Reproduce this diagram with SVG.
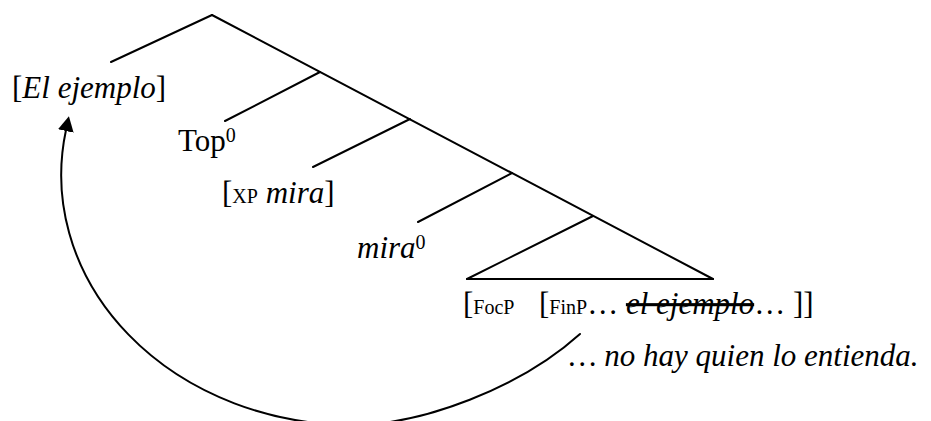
<svg xmlns="http://www.w3.org/2000/svg" width="931" height="421" viewBox="0 0 931 421">
<style>
  .ln { stroke: #000; stroke-width: 2; fill: none; stroke-linecap: round; }
  .t { font-family: "Liberation Serif", "Times New Roman", serif; fill: #000; font-size: 31px; }
  .it { font-style: italic; }
  .sm { font-size: 20px; }
  .strike { text-decoration: line-through; }
</style>
<defs>
  <marker id="ah" markerUnits="userSpaceOnUse" markerWidth="16" markerHeight="16" refX="1" refY="8" orient="auto">
    <path d="M0,0 L15,8 L0,16 z" fill="#000"/>
  </marker>
</defs>
<g id="connectors">
  <line class="ln" x1="212" y1="15" x2="713" y2="279"/>
  <line class="ln" x1="212" y1="15" x2="111" y2="62"/>
  <line class="ln" x1="320" y1="72" x2="225" y2="121"/>
  <line class="ln" x1="410" y1="119" x2="313" y2="167"/>
  <line class="ln" x1="512" y1="173" x2="418" y2="222"/>
  <line class="ln" x1="593" y1="216" x2="467" y2="279"/>
  <line class="ln" x1="467" y1="279" x2="713" y2="279"/>
  <path class="ln" d="M580,334 C520,388 422,425 352,425 A292,250 0 0 1 66,130" marker-end="url(#ah)"/>
</g>
<g id="n-ejemplo">
  <text class="t" x="12" y="98">[<tspan class="it">El ejemplo</tspan>]</text>
</g>
<g id="n-top">
  <text class="t" x="178" y="151">Top<tspan class="sm" dy="-9">0</tspan></text>
</g>
<g id="n-xp">
  <text class="t" x="222" y="203">[<tspan class="sm">XP</tspan> <tspan class="it">mira</tspan>]</text>
</g>
<g id="n-mira">
  <text class="t it" x="357" y="258">mira<tspan class="sm" font-style="normal" dy="-9">0</tspan></text>
</g>
<g id="n-focp">
  <text class="t" x="463" y="314">[<tspan class="sm">FocP</tspan><tspan x="539">[</tspan><tspan class="sm">FinP</tspan>… <tspan class="it strike">el ejemplo</tspan>… ]]</text>
</g>
<g id="n-sentence">
  <text class="t it" x="569" y="366" font-size="32">… no hay quien lo entienda.</text>
</g>
</svg>
